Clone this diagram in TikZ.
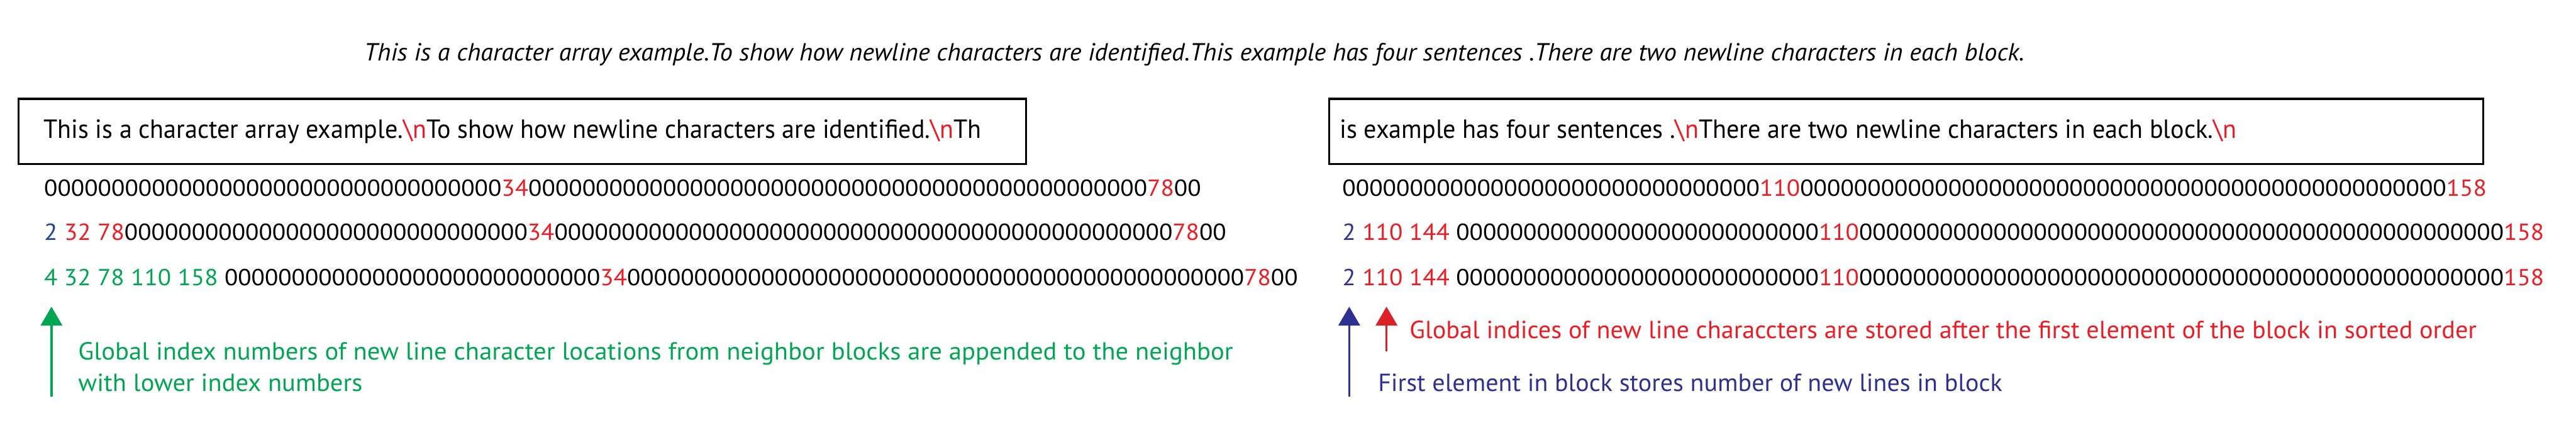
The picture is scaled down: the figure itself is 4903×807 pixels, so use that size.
\documentclass[tikz,border=0pt]{standalone}
\usepackage{fontspec}
\setmainfont{PT Sans}
\usetikzlibrary{arrows.meta}
\definecolor{nlred}{HTML}{ED1C24}
\definecolor{arrred}{HTML}{DA2128}
\definecolor{nlgreen}{HTML}{00A651}
\definecolor{nlnavy}{HTML}{2E3192}
\definecolor{nlblue}{HTML}{21409A}
\ExplSyntaxOn
\cs_new:Npn \myzeros #1 { \prg_replicate:nn {#1} {0} }
\ExplSyntaxOff
\newcommand\fitw[2]{\resizebox{#1pt}{\height}{#2}}
\newcommand\rd[1]{\textcolor{nlred}{#1}}
\newcommand\nlc{\rd{\textbackslash n}}
\tikzset{
  txt/.style={anchor=base west, inner sep=0pt, outer sep=0pt},
  boxfont/.style={font=\fontsize{50}{60}\selectfont},
  rowfont/.style={font=\fontsize{44}{52}\selectfont},
  notefont/.style={font=\fontsize{47}{56}\selectfont},
  blockbox/.style={draw=black, line width=4pt, inner sep=0pt, anchor=north west},
  uparrow/.style={line width=4pt, -{Triangle[width=41pt,length=36pt]}}
}
\begin{document}
\begin{tikzpicture}[x=1pt,y=-1pt]
\useasboundingbox (0,0) rectangle (4903,807);
\fill[white] (0,0) rectangle (4903,807);

% title
\node[txt, font=\fontsize{47}{56}\selectfont\itshape] (title) at (693,115)
  {\fitw{3160}{This is a character array example.To show how newline characters are identified.This example has four sentences .There are two newline characters in each block.}};

% blocks
\node[blockbox, minimum width=1918pt, minimum height=124pt] (box1) at (33,186) {};
\node[blockbox, minimum width=2196pt, minimum height=124pt] (box2) at (2528,186) {};
\node[txt, boxfont] (b1text) at (83,263)
  {\fitw{1785}{This is a character array example.\nlc To show how newline characters are identified.\nlc Th}};
\node[txt, boxfont] (b2text) at (2550,263)
  {\fitw{1707}{is example has four sentences .\nlc There are two newline characters in each block.\nlc}};

% left rows
\node[txt, rowfont] (l1) at (84,373)
  {\fitw{2202}{\myzeros{34}\rd{34}\myzeros{46}\rd{78}00}};
\node[txt, rowfont] (l2) at (84,457)
  {\fitw{2250}{\textcolor{nlblue}{2} \rd{32 78}\myzeros{30}\rd{34}\myzeros{46}\rd{78}00}};
\node[txt, rowfont] (l3) at (84,543)
  {\fitw{2386}{\textcolor{nlgreen}{4 32 78 110 158} \myzeros{28}\rd{34}\myzeros{46}\rd{78}00}};

% right rows
\node[txt, rowfont] (r1) at (2555,373)
  {\fitw{2178}{\myzeros{31}\rd{110}\myzeros{48}\rd{158}}};
\node[txt, rowfont] (r2) at (2555,457)
  {\fitw{2287}{\textcolor{nlnavy}{2} \rd{110 144} \myzeros{27}\rd{110}\myzeros{48}\rd{158}}};
\node[txt, rowfont] (r3) at (2555,543)
  {\fitw{2287}{\textcolor{nlnavy}{2} \rd{110 144} \myzeros{27}\rd{110}\myzeros{48}\rd{158}}};

% notes
\node[txt, notefont, text=nlgreen] (g1) at (149,684)
  {\fitw{2198}{Global index numbers of new line character locations from neighbor blocks are appended to the neighbor}};
\node[txt, notefont, text=nlgreen] (g2) at (149,744)
  {\fitw{541}{with lower index numbers}};
\node[txt, notefont, text=nlred] (rnote) at (2683,643)
  {\fitw{2031}{Global indices of new line characcters are stored after the first element of the block in sorted order}};
\node[txt, notefont, text=nlnavy] (bnote) at (2623,744)
  {\fitw{1188}{First element in block stores number of new lines in block}};

% arrows
\coordinate (gtail) at (98,754);
\coordinate (ghead) at (98,583);
\coordinate (btail) at (2568,754);
\coordinate (bhead) at (2568,583);
\coordinate (rtail) at (2639,668);
\coordinate (rhead) at (2639,583);
\draw[uparrow, draw=nlgreen, fill=nlgreen] (gtail) -- (ghead);
\draw[uparrow, draw=nlnavy, fill=nlnavy] (btail) -- (bhead);
\draw[uparrow, draw=arrred, fill=arrred] (rtail) -- (rhead);
\end{tikzpicture}
\end{document}
